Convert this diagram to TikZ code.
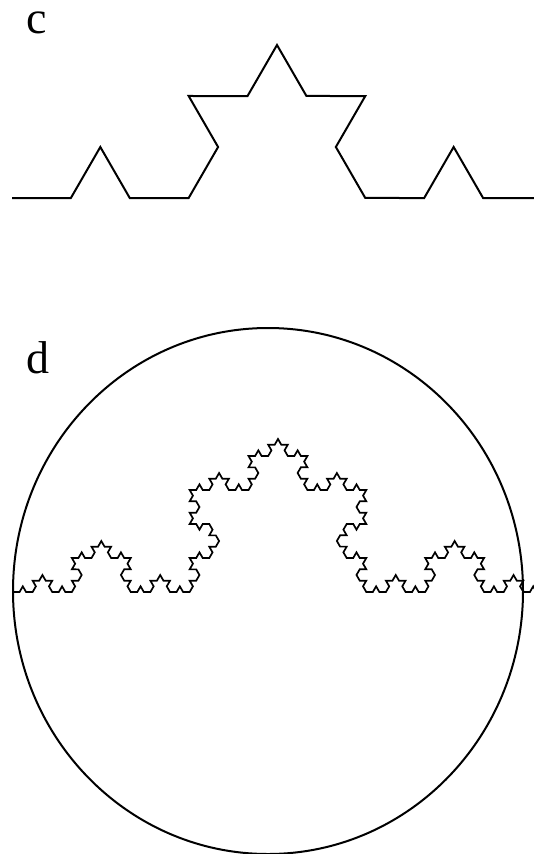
\documentclass[tikz,border=0pt]{standalone}
\usepackage{fontspec}
\setmainfont{Liberation Serif}
\usetikzlibrary{decorations.fractals}
\tikzset{
  panel/.style={font=\fontsize{46}{46}\selectfont, inner sep=0pt, anchor=base west, text height=0.7em},
  kochline/.style={line width=#1, line join=miter, black, decoration=Koch snowflake},
  rim/.style={line width=2pt, black}
}

\begin{document}
\begin{tikzpicture}[x=1pt, y=1pt]
\useasboundingbox (0,0) rectangle (534,-854);
\clip (0,0) rectangle (534,-854);

% panel c: second order
\node (labc) [panel] at (26,-33) {c};
\coordinate (cl) at (12,-198);
\coordinate (cr) at (542,-198);
\draw [kochline=2pt] decorate{ decorate{ (cl) -- (cr) }};

% panel d: fourth order inside the outline
\node (labd) [panel] at (26,-373) {d};
\draw [rim] (268,-591) ellipse [x radius=255, y radius=263];
\coordinate (dl) at (13,-592);
\coordinate (dr) at (543,-592);
\draw [kochline=1.7pt] decorate{ decorate{ decorate{ decorate{ (dl) -- (dr) }}}};
\end{tikzpicture}
\end{document}
